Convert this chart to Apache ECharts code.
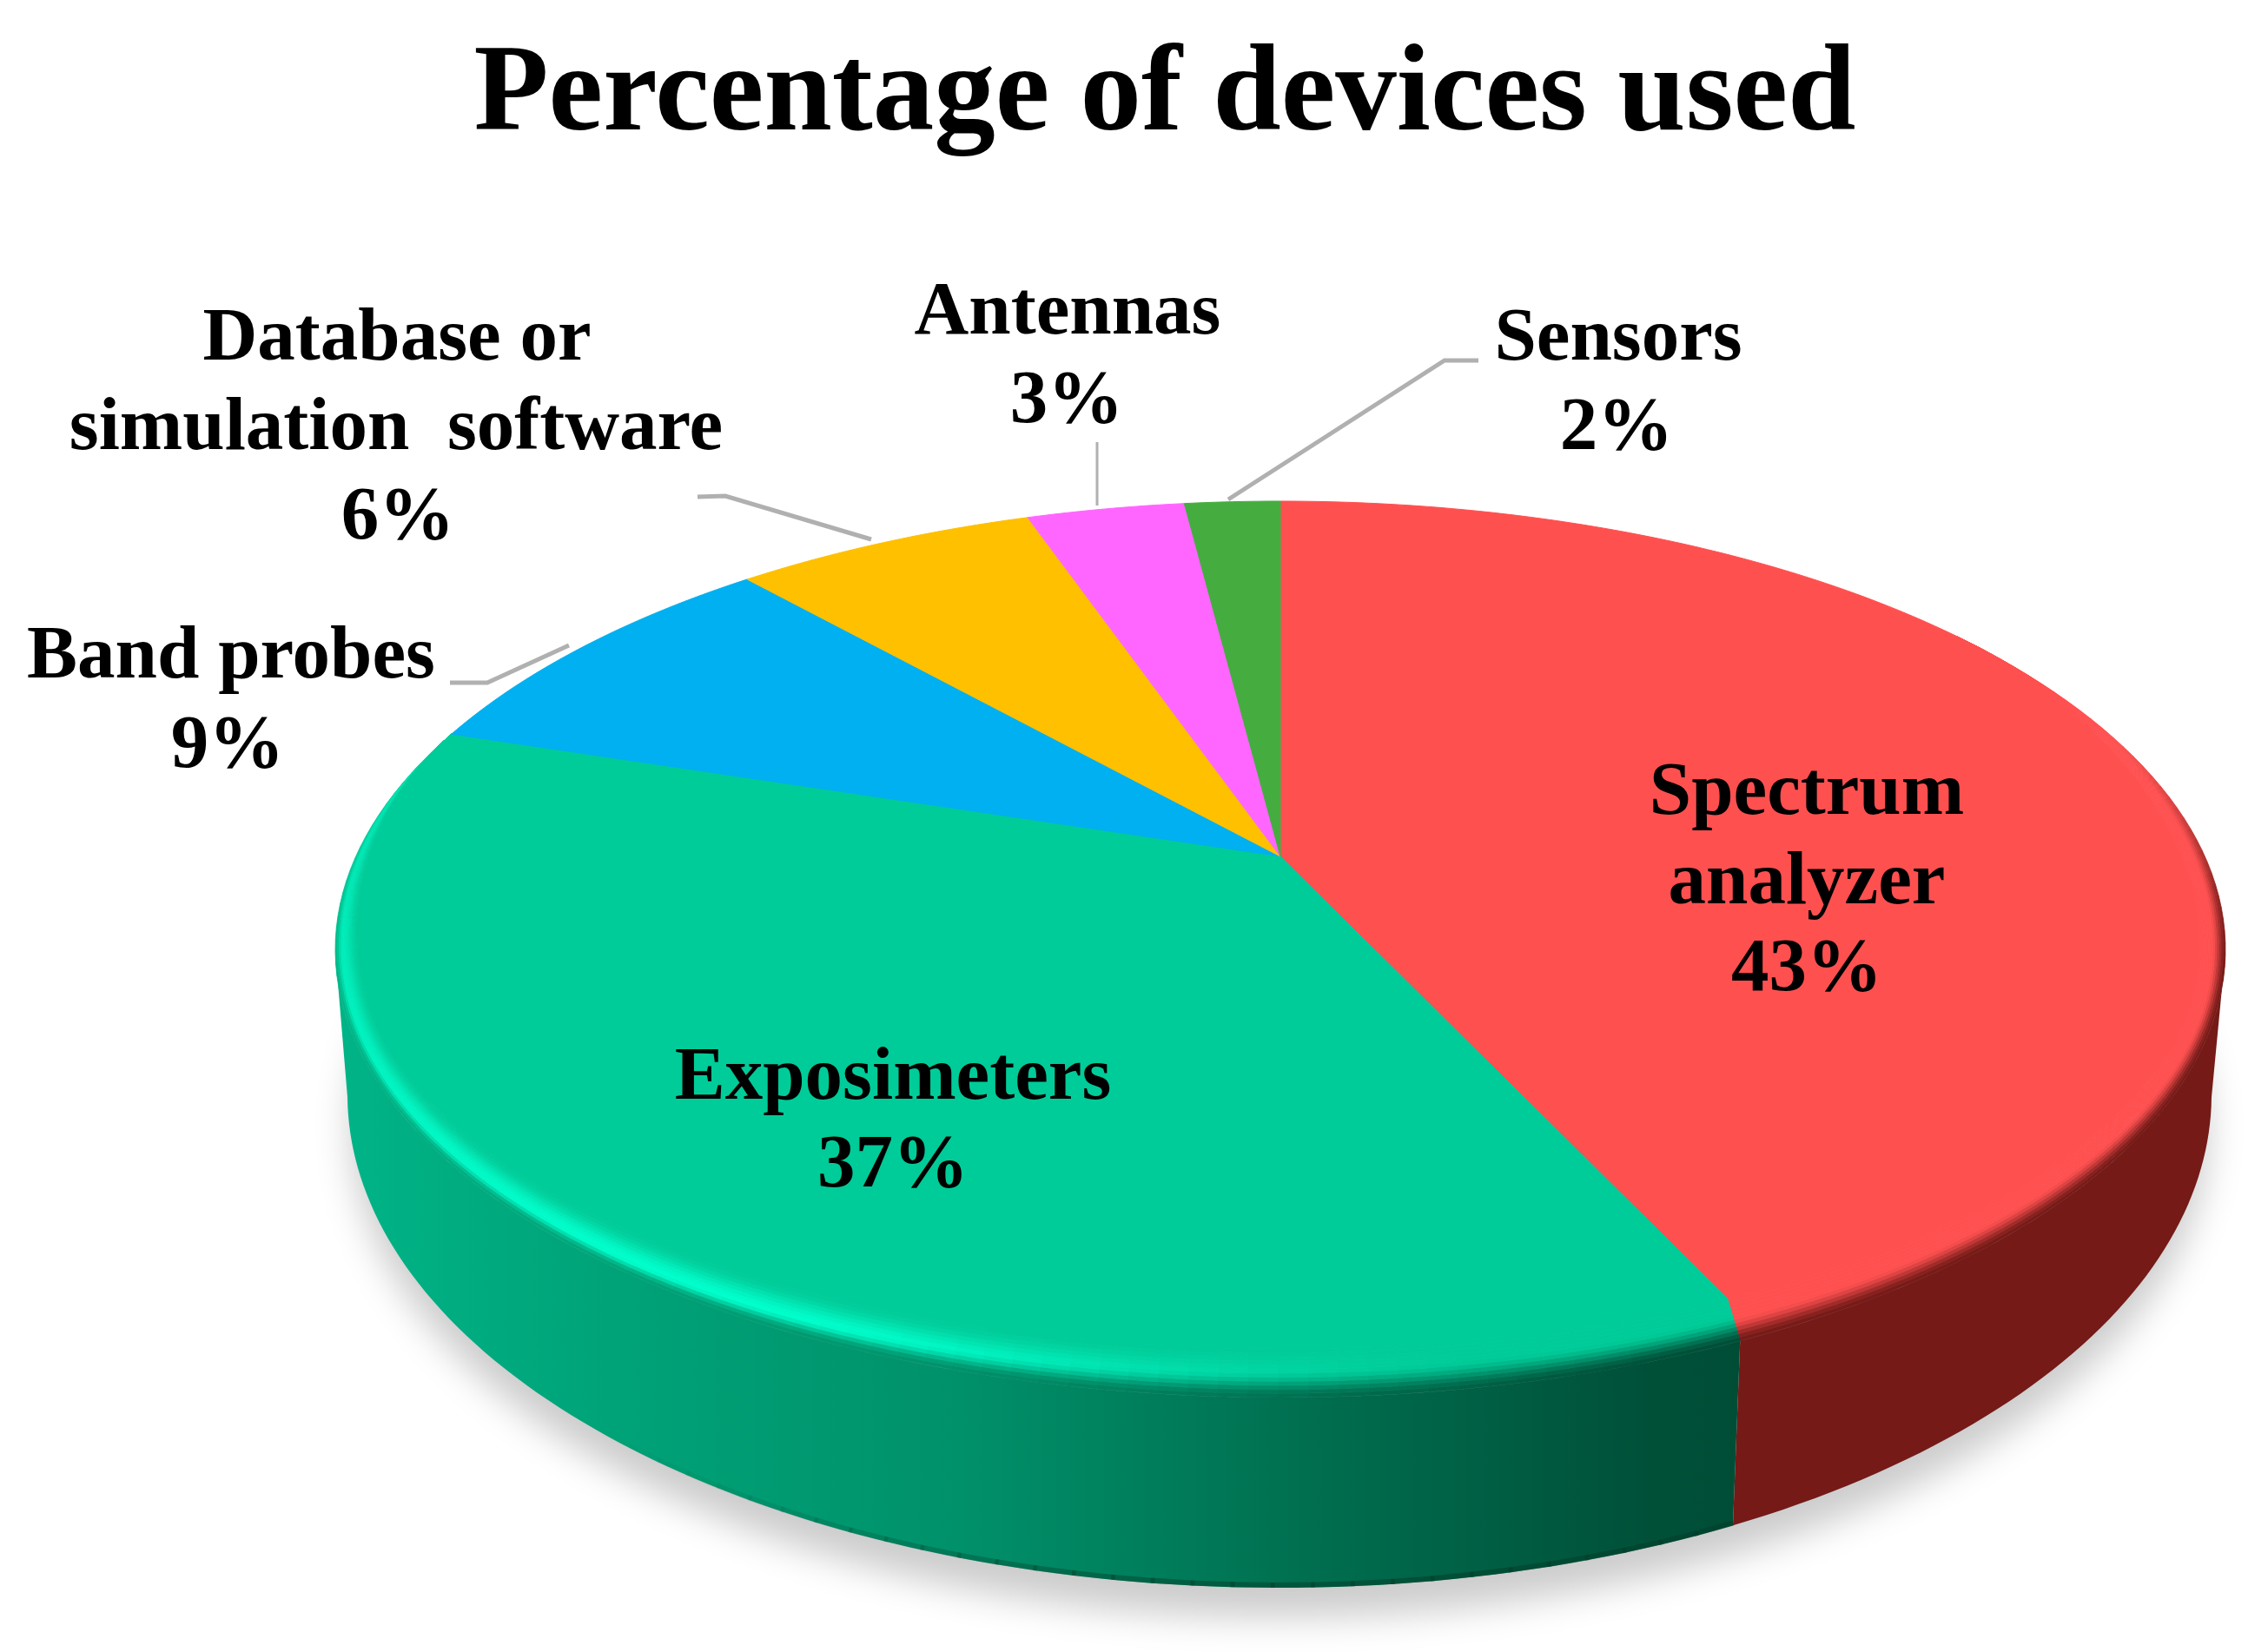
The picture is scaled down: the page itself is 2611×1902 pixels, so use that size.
<!DOCTYPE html>
<html>
<head>
<meta charset="utf-8">
<style>html,body{margin:0;padding:0;background:#fff}#c{width:2611px;height:1902px}</style>
<script src="https://cdn.jsdelivr.net/npm/echarts@6/dist/echarts.min.js"></script>
</head>
<body>
<div id="c"></div>
<script>
var chartTitle = 'Percentage of devices used';
var categories = ['Spectrum analyzer', 'Exposimeters', 'Band probes', 'Database or simulation software', 'Antennas', 'Sensors'];
var values = [43.4, 36.5, 8.5, 6.3, 3.3, 2.0];
var labelLines = [['Spectrum', 'analyzer'], ['Exposimeters'], ['Band probes'], ['Database or', 'simulation  software'], ['Antennas'], ['Sensors']];
var topColors = ['#ff5050', '#00cc99', '#00b0f0', '#ffc000', '#ff66ff', '#45ad3f'];

// layout
var TOP = {cx: 1474, cy: 1093, a: 1088, b: 516};
var BOT = {cx: 1473, cy: 1260, a: 1073, b: 568};
var APEX_Y = 986;
var C = (TOP.cy - APEX_Y) / TOP.b;
var labelPos = [
  [[2080, 915], [2080, 1018], [2080, 1118]],
  [[1028, 1243], [1028, 1344]],
  [[266, 758], [262, 861]],
  [[457, 392], [456, 495], [458, 598]],
  [[1229, 362], [1228, 464]],
  [[1863, 392], [1861, 495]]
];
var leaders = [
  null, null,
  {pts: [[518, 786], [561, 786], [655, 743]], w: 5},
  {pts: [[803, 572], [835, 571], [1003, 621]], w: 5},
  {pts: [[1263, 509], [1263, 582]], w: 3},
  {pts: [[1702, 415], [1663, 415], [1414, 575]], w: 5}
];

var total = values.reduce(function (s, v) { return s + v; }, 0);
var starts = [];
values.reduce(function (s, v, i) { starts[i] = s / total * 360; return s + v; }, 0);

function pt(e, deg, da, db) {
  var r = deg * Math.PI / 180, u = Math.sin(r), v = Math.cos(r);
  var d = 1 + C * v, s = Math.sqrt(1 - C * C);
  var x = u * s / d, y = (v + C) / d;
  return [e.cx + x * (e.a - (da || 0)), e.cy - y * (e.b - (db || 0))];
}
function arc(e, t0, t1, da, db, step) {
  var n = Math.max(1, Math.ceil(Math.abs(t1 - t0) / (step || 1))), out = [];
  for (var i = 0; i <= n; i++) out.push(pt(e, t0 + (t1 - t0) * i / n, da, db));
  return out;
}
function hex(c) { return [parseInt(c.substr(1, 2), 16), parseInt(c.substr(3, 2), 16), parseInt(c.substr(5, 2), 16)]; }
function mix(a, b, f) { return [a[0] + (b[0] - a[0]) * f, a[1] + (b[1] - a[1]) * f, a[2] + (b[2] - a[2]) * f]; }
function rgb(c) { return 'rgb(' + Math.round(c[0]) + ',' + Math.round(c[1]) + ',' + Math.round(c[2]) + ')'; }
function sm(x) { x = Math.max(0, Math.min(1, x)); return x * x * (3 - 2 * x); }

var greenStops = [[386, '#00b487'], [700, '#00a378'], [1100, '#00916a'], [1500, '#006f50'], [1900, '#005038'], [2005, '#004d36']];
function greenSide(x) {
  for (var i = 1; i < greenStops.length; i++) {
    if (x <= greenStops[i][0]) {
      var p = greenStops[i - 1], q = greenStops[i];
      return mix(hex(p[1]), hex(q[1]), Math.max(0, (x - p[0]) / (q[0] - p[0])));
    }
  }
  return hex('#004d36');
}
var greenGrad = new echarts.graphic.LinearGradient(386, 0, 2005, 0, greenStops.map(function (s) {
  return {offset: (s[0] - 386) / (2005 - 386), color: s[1]};
}), true);
var redSide = '#751a17';
var FRONT_R = 102.3, FRONT_L = 257.7;
var RINGS = 12, BEVEL_A = 30, BEVEL_B = 56;

// how much of the rounded rim is present at angle t
function rimWidth(t) { return sm((t - 55) / 50) * (1 - sm((t - 252) / 35)); }
function inset(t, k) {
  var f = rimWidth(t) * k;
  return pt(TOP, t, BEVEL_A * f, BEVEL_B * f);
}

function sideColor(i) { return i === 0 ? redSide : greenGrad; }

function renderSides(params, api) {
  var i = params.dataIndex, t0 = starts[i], t1 = t0 + api.value(0) / total * 360;
  var a = Math.max(t0, FRONT_R), b = Math.min(t1, FRONT_L);
  if (a >= b) return {type: 'group', children: []};
  var upper = arc(TOP, a, b), lower = arc(BOT, a, b);
  var children = [{type: 'polygon', silent: true, shape: {points: upper.concat(lower.reverse())},
    style: {fill: sideColor(i), stroke: null}}];
  if (i === 1) {
    for (var t = a; t < 220; t += 2) {
      var al = 0.5 * (1 - sm((t - 175) / 45));
      children.push({type: 'polyline', silent: true, shape: {points: [pt(BOT, t, 0, 3), pt(BOT, t + 2.2, 0, 3)]},
        style: {stroke: 'rgba(0,60,40,' + al.toFixed(3) + ')', lineWidth: 6, fill: null}});
    }
  }
  return {type: 'group', children: children};
}

function renderTop(params, api) {
  var i = params.dataIndex, t0 = starts[i], t1 = t0 + api.value(0) / total * 360, pts = [[TOP.cx, APEX_Y]];
  var n = Math.ceil(t1 - t0);
  for (var s = 0; s <= n; s++) pts.push(inset(t0 + (t1 - t0) * s / n, 1));
  return {type: 'polygon', silent: true, shape: {points: pts},
    style: {fill: topColors[i], stroke: topColors[i], lineWidth: 1}};
}

function bevelColor(i, k, t, x) {
  var base = hex(topColors[i]);
  if (i === 0) {
    var w0 = sm((t - 70) / 35);
    return rgb(mix(base, hex(redSide), w0 * (1 - sm(k / 0.55))));
  }
  var edge = greenSide(x), w1 = 1 - sm((t - 250) / 30);
  var hl = t < 205 ? sm((t - 168) / 37) : 1 - 0.55 * sm((t - 205) / 85);
  var hump = sm(k / 0.3) * (1 - sm((k - 0.35) / 0.65));
  var c = mix(base, hex('#00ffcc'), hl * hump);
  var outer = 0.3 + 0.3 * (1 - sm((t - 175) / 50));
  return rgb(mix(c, edge, w1 * (1 - sm(k / outer))));
}
function renderBevel(params, api) {
  var i = params.dataIndex, t0 = starts[i], t1 = t0 + api.value(0) / total * 360;
  if (i > 1) return {type: 'group', children: []};
  if (i === 0) t0 = Math.max(t0, 55);
  var children = [], step = 1.5, n = Math.ceil((t1 - t0) / step);
  for (var r = 0; r < RINGS; r++) {
    var k0 = r / RINGS, k1 = (r + 1) / RINGS;
    for (var s = 0; s < n; s++) {
      var a = t0 + (t1 - t0) * s / n, b = t0 + (t1 - t0) * (s + 1) / n;
      var p1 = inset(a, k0), p2 = inset(b, k0), p3 = inset(b, k1), p4 = inset(a, k1);
      var col = bevelColor(i, (k0 + k1) / 2, (a + b) / 2, (p1[0] + p2[0]) / 2);
      children.push({type: 'polygon', silent: true, shape: {points: [p1, p2, p3, p4]},
        style: {fill: col, stroke: col, lineWidth: 0.8}});
    }
  }
  return {type: 'group', children: children};
}

function renderShadow() {
  return {type: 'polygon', silent: true, shape: {points: arc(BOT, 0, 360, 4, 4, 2)},
    style: {fill: '#dcdcdc', shadowColor: '#cccccc', shadowBlur: 42, shadowOffsetX: 0, shadowOffsetY: 38}};
}

function renderLabels(params, api) {
  var i = params.dataIndex, children = [];
  var lines = labelLines[i].concat([Math.round(api.value(0)) + '%']);
  lines.forEach(function (line, j) {
    children.push({type: 'text', silent: true, style: {
      text: line, x: labelPos[i][j][0], y: labelPos[i][j][1],
      fill: '#000', font: 'bold 87px "Liberation Serif"', textAlign: 'center', textVerticalAlign: 'middle'
    }});
  });
  if (leaders[i]) children.push({type: 'polyline', silent: true, shape: {points: leaders[i].pts},
    style: {stroke: '#b0b0b0', lineWidth: leaders[i].w, fill: null}});
  return {type: 'group', children: children};
}

var data = values.map(function (v, i) { return {name: categories[i], value: [v]}; });
function layer(fn, z) {
  return {type: 'custom', coordinateSystem: 'none', renderItem: fn, data: data, z: z, silent: true, animation: false, clip: false};
}
var chart = echarts.init(document.getElementById('c'), null, {renderer: 'canvas', width: 2611, height: 1902});
chart.setOption({
  animation: false,
  backgroundColor: '#ffffff',
  title: {
    text: chartTitle, left: 1336, top: 37, textAlign: 'center',
    textStyle: {fontFamily: 'Liberation Serif', fontWeight: 'bold', fontSize: 141, color: '#000'}
  },
  series: [
    {type: 'custom', coordinateSystem: 'none', renderItem: renderShadow, data: [[1]], z: 1, silent: true, animation: false},
    layer(renderSides, 2), layer(renderTop, 3), layer(renderBevel, 4), layer(renderLabels, 5)
  ]
});
</script>
</body>
</html>
